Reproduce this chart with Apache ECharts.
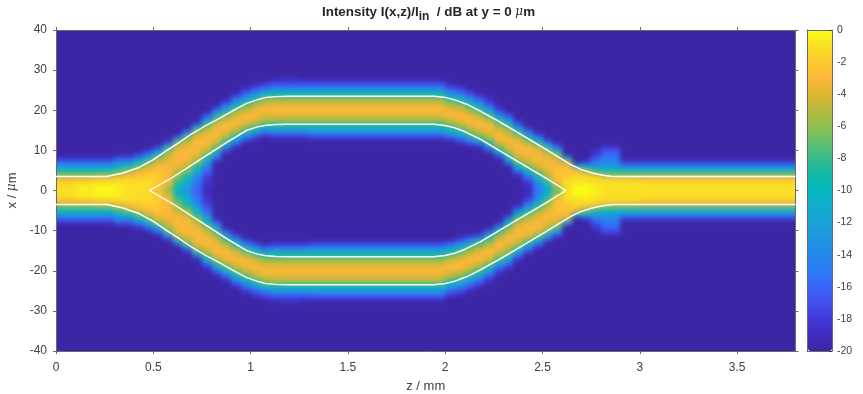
<!DOCTYPE html>
<html>
<head>
<meta charset="utf-8">
<style>
  html, body { margin: 0; padding: 0; background: #fff; }
  #chart { width: 863px; height: 394px; }
  /* heat layer only: the field in the reference is shaded, the cells are not */
  canvas[data-zr-dom-id="zr_-1"] { filter: blur(2.5px); clip-path: inset(30px 67.5px 43px 56px); }
</style>
<script src="https://cdn.jsdelivr.net/npm/echarts@6/dist/echarts.min.js"></script>
</head>
<body>
<div id="chart"></div>
<script>
// column edges along z (mm), finer where the guides bend
const zEdges = [0, .1, .2, .3, .35, .4, .45, .5, .55, .6, .65, .7, .75, .8, .85, .9, .95, 1, 1.05, 1.1, 1.15, 1.2, 1.25, 1.3,
  1.4, 1.5, 1.6, 1.7, 1.8, 1.9, 1.95, 2, 2.05, 2.1, 2.15, 2.2, 2.25, 2.3, 2.35, 2.4, 2.45, 2.5, 2.55, 2.6, 2.65, 2.7, 2.75, 2.8, 2.85, 2.9, 2.95, 3,
  3.1, 3.2, 3.3, 3.4, 3.5, 3.6, 3.7, 3.8];

// dB per column, index = |x| in um, upper half; anything past the end is -20
const intensityCols = [
  [-1, -1, -2, -3.5, -7, -10, -13, -16, -19],
  [-.5, -.5, -1.5, -3.5, -7, -10, -13, -16, -19],
  [0, -.3, -1, -3, -6.5, -10, -13, -16, -19],
  [-.5, -.5, -1, -2.5, -5, -8, -11, -14, -17],
  [-1, -1, -1, -2, -3.5, -6.5, -10, -14, -17],
  [-1, -1, -1, -2, -2.5, -4, -7, -10.5, -14, -18],
  [-1.5, -1, -1, -1.5, -2, -3, -4.5, -7, -11, -15, -19],
  [-3, -2, -2, -2, -2, -2.5, -3, -4, -6, -10.5, -15, -19],
  [-6, -4, -3, -3, -3, -3, -3, -3.5, -4, -5, -7, -12, -18],
  [-10, -9, -8, -6.5, -5.5, -4.5, -3.5, -3, -3, -3, -3.5, -4.5, -7.5, -15],
  [-13, -12, -11, -9.5, -8, -6, -4.5, -3.5, -3, -3, -3, -3.5, -4.5, -6.5, -12, -18],
  [-16, -16, -15, -14, -12.5, -10.5, -8.5, -6, -4.5, -3.5, -3, -3, -3, -3.5, -4.5, -7.5, -14, -19],
  [-19, -19, -18, -18, -17, -16, -14, -11.5, -9.5, -6.5, -4.5, -3.5, -3, -3, -3.5, -4.5, -6.5, -10.5, -14.5, -18],
  [-20, -20, -20, -20, -20, -20, -20, -19, -16, -12.5, -8.5, -6, -4.5, -3.5, -3, -3, -3.5, -5, -8, -12, -16, -19],
  [-20, -20, -20, -20, -20, -20, -20, -20, -20, -20, -17, -12.5, -8.5, -5.5, -4, -3, -3, -3.5, -5, -7.5, -11, -15, -18],
  [-20, -20, -20, -20, -20, -20, -20, -20, -20, -20, -20, -18, -14, -10.5, -7, -4.5, -3.5, -3, -3.5, -4.5, -6.5, -10, -13, -16, -19],
  [-20, -20, -20, -20, -20, -20, -20, -20, -20, -20, -20, -20, -19, -15.5, -11.5, -7.5, -5, -3.5, -3, -3.5, -4.5, -6.5, -9.5, -13, -16, -18],
  [-20, -20, -20, -20, -20, -20, -20, -20, -20, -20, -20, -20, -20, -18, -14, -10.5, -7, -4.5, -3.5, -3, -3.5, -4.5, -6.5, -10, -13, -16, -18],
  [-20, -20, -20, -20, -20, -20, -20, -20, -20, -20, -20, -20, -20, -20, -17, -13, -9, -6, -4.5, -3.5, -3, -3.5, -5, -7, -11, -14, -17, -19],
  [-20, -20, -20, -20, -20, -20, -20, -20, -20, -20, -20, -20, -20, -19, -16, -12, -9, -6.5, -4.5, -3.5, -3, -3.5, -4.5, -6.5, -10, -13, -16, -18],
  [-20, -20, -20, -20, -20, -20, -20, -20, -20, -20, -20, -20, -20, -19, -16, -12, -9, -6.5, -4.5, -3.5, -3, -3.5, -4.5, -6.5, -10, -13, -16, -18, -19],
  [-20, -20, -20, -20, -20, -20, -20, -20, -20, -20, -20, -20, -20, -19, -16, -12, -9, -6.5, -4.5, -3.5, -3, -3.5, -4.5, -6.5, -10, -13, -16, -18, -19],
  [-20, -20, -20, -20, -20, -20, -20, -20, -20, -20, -20, -20, -20, -19, -16, -12, -9, -6.5, -4.5, -3.5, -3, -3.5, -4.5, -6.5, -10, -13, -16, -18],
  [-20, -20, -20, -20, -20, -20, -20, -20, -20, -20, -20, -20, -20, -18, -15, -12, -9, -6.5, -4.5, -3.5, -3, -3.5, -4.5, -6.5, -10, -13, -15.5, -18],
  [-20, -20, -20, -20, -20, -20, -20, -20, -20, -20, -20, -20, -20, -18, -15, -12, -9, -6.5, -4.5, -3.5, -3, -3.5, -4.5, -6.5, -10, -13, -15.5, -18],
  [-20, -20, -20, -20, -20, -20, -20, -20, -20, -20, -20, -20, -20, -18, -15, -12, -9, -6.5, -4.5, -3.5, -3, -3.5, -4.5, -6.5, -10, -13, -15.5, -18],
  [-20, -20, -20, -20, -20, -20, -20, -20, -20, -20, -20, -20, -20, -18, -15, -12, -9, -6.5, -4.5, -3.5, -3, -3.5, -4.5, -6.5, -10, -13, -15.5, -18],
  [-20, -20, -20, -20, -20, -20, -20, -20, -20, -20, -20, -20, -20, -18, -15, -12, -9, -6.5, -4.5, -3.5, -3, -3.5, -4.5, -6.5, -10, -13, -15.5, -18],
  [-20, -20, -20, -20, -20, -20, -20, -20, -20, -20, -20, -20, -20, -18, -15, -12, -9, -6.5, -4.5, -3.5, -3, -3.5, -4.5, -6.5, -10, -13, -15.5, -18],
  [-20, -20, -20, -20, -20, -20, -20, -20, -20, -20, -20, -20, -20, -18, -15, -12, -9, -6.5, -4.5, -3.5, -3, -3.5, -4.5, -6.5, -10, -13, -15.5, -18],
  [-20, -20, -20, -20, -20, -20, -20, -20, -20, -20, -20, -20, -20, -18, -15, -12, -9, -6.5, -4.5, -3.5, -3, -3.5, -4.5, -6.5, -10, -13, -15.5, -18],
  [-20, -20, -20, -20, -20, -20, -20, -20, -20, -20, -20, -20, -20, -17, -13, -10, -7.5, -5, -3.5, -3, -3.5, -4.5, -6.5, -10, -13, -16, -18],
  [-20, -20, -20, -20, -20, -20, -20, -20, -20, -20, -20, -20, -18, -15, -11, -8, -5.5, -4, -3, -3, -4, -5.5, -8, -11.5, -14.5, -17, -19],
  [-20, -20, -20, -20, -20, -20, -20, -20, -20, -20, -20, -19, -16, -12, -8, -5.5, -4, -3, -3, -4, -5.5, -8, -11, -14, -17, -19],
  [-20, -20, -20, -20, -20, -20, -20, -20, -20, -20, -20, -18, -12.5, -8, -5.5, -4, -3, -3, -4, -5.5, -8, -11, -14, -17, -19],
  [-20, -20, -20, -20, -20, -20, -20, -20, -20, -20, -17, -12, -8, -5.5, -4, -3, -3, -4, -6, -9, -12.5, -15.5, -18, -19],
  [-20, -20, -20, -20, -20, -20, -20, -20, -19, -14, -9, -6, -4, -3, -3, -4, -5.5, -7.5, -11, -15, -18, -19],
  [-20, -20, -20, -20, -20, -20, -19, -14, -10, -7, -4.5, -3.5, -3, -3.5, -4.5, -5.5, -8, -12, -15, -18],
  [-20, -20, -20, -20, -18, -14, -10, -7, -4.5, -3.5, -3, -3, -3.5, -4.5, -7, -11, -15, -18],
  [-19, -19, -18, -16, -13, -9.5, -6.5, -4.5, -3.5, -3, -3, -3.5, -5, -9, -13, -17],
  [-15, -15, -13, -11, -8, -5.5, -4, -3.5, -3, -3, -3.5, -5.5, -9.5, -14, -18],
  [-11, -10, -8, -6, -4.5, -3.5, -3, -3, -3.5, -4.5, -6.5, -11, -16],
  [-7, -5, -3, -2.5, -2.5, -2.5, -3, -3.5, -4.5, -7, -12, -17],
  [-1, -1, -1, -2, -2, -2.5, -3, -5, -13],
  [0, 0, -1, -1, -2, -3.5, -11],
  [0, 0, -1, -1, -3, -7, -12, -18],
  [-.5, -.5, -1, -1.5, -4.5, -9, -13, -15, -17, -18, -19],
  [-1, -1, -1, -2.5, -6.5, -10, -13, -14, -15, -16, -17, -19],
  [-1, -1, -1, -2.5, -7, -10, -13, -14, -15, -16, -17, -19],
  [-1, -1, -1, -2.5, -7, -11, -14, -18],
  [-1, -1, -1, -2.5, -7, -11, -14, -18],
  [-1, -1, -1.5, -3, -7, -11, -14, -18],
  [-1, -1, -1.5, -3, -7, -11, -14, -18],
  [-1, -1, -1.5, -3, -7, -11, -14, -18],
  [-1, -1, -1.5, -3, -7, -11, -14, -18],
  [-1, -1, -1.5, -3, -7, -11, -14, -18],
  [-1, -1, -1.5, -3, -7, -11, -14, -18],
  [-1, -1, -1.5, -3, -7, -11, -14, -18],
  [-1, -1, -1.5, -3, -7, -11, -14, -18],
  [-1, -1, -1.5, -3, -7, -11, -14, -18]
];

// white guide outlines, upper half
const zOuter = [0, .26, .34, .43, .5, .57, .64, .7, .77, .84, .91, .98, 1.04, 1.08, 1.13, 1.19, 1.94, 2, 2.05, 2.11, 2.18, 2.28, 2.35, 2.44, 2.52, 2.58, 2.64, 2.7, 2.76, 2.81, 2.86, 3.8];
const xOuter = [3.5, 3.5, 4.3, 5.8, 7.7, 10, 12.2, 14.2, 16.2, 18, 19.9, 21.7, 22.7, 23.2, 23.4, 23.5, 23.5, 23.2, 22.6, 21.5, 19.8, 17.1, 15.1, 12.5, 10.2, 8.4, 6.6, 5.2, 4.3, 3.8, 3.5, 3.5];
const zInner = [.48, .6, .74, .877, .98, 1.03, 1.08, 1.13, 1.185, 1.94, 2, 2.05, 2.1, 2.18, 2.35, 2.52, 2.62];
const xInner = [0, 3.3, 7.7, 12, 15, 15.8, 16.25, 16.45, 16.5, 16.5, 16.2, 15.6, 14.7, 12.8, 7.9, 3, 0];

const zTicks = [0, .5, 1, 1.5, 2, 2.5, 3, 3.5];
const xTicks = [-40, -30, -20, -10, 0, 10, 20, 30, 40];
const barTicks = [-20, -18, -16, -14, -12, -10, -8, -6, -4, -2, 0];
// colour at each whole dB, -20 up to 0
const barColors = ['#3c26a5', '#3f2cc0', '#4238d8', '#4450ee', '#3a66f8', '#2b7cf5', '#2388ea', '#1e96e0', '#1ba3d8', '#10acd0',
  '#02b8c0', '#10b8a8', '#35bb8c', '#62c070', '#8fc050', '#b3bb3e', '#dfb52f', '#fbb83a', '#fdc92f', '#fadf25', '#f9fb15'];

const cells = [];
intensityCols.forEach((col, i) => {
  for (let x = -40; x <= 40; x++) {
    const v = col[Math.abs(x)];
    cells.push([zEdges[i], zEdges[i + 1], x, v === undefined ? -20 : v]);
  }
});

const pairs = (zs, xs, sign) => zs.map((z, i) => [z, sign * xs[i]]);
const innerLoop = pairs(zInner, xInner, 1).concat(pairs(zInner, xInner, -1).reverse());

const textColor = '#404040';
const axisColor = '#6a6a6a';
const font = 'Liberation Sans';
const lineStyle = { color: '#fff', width: 1.4 };

const guide = (data) => ({
  type: 'line', data, showSymbol: false, symbol: 'none', lineStyle, silent: true, z: 5,
  xAxisIndex: 0, yAxisIndex: 0
});

const frameAxis = (min, max, ticks, position, gridIndex, labels, margin) => ({
  type: 'value', min, max, position, gridIndex,
  splitLine: { show: false },
  axisLine: { show: true, onZero: false, lineStyle: { color: axisColor } },
  axisTick: { show: true, length: 3, customValues: ticks, lineStyle: { color: axisColor } },
  axisLabel: { show: labels, customValues: ticks, color: textColor, fontFamily: font, fontSize: 12, margin }
});

const chart = echarts.init(document.getElementById('chart'));
chart.setOption({
  animation: false,
  title: {
    left: 317, top: -4,
    text: '{t|Intensity I(x,z)/I}{s|in}{t|  / dB at y = 0 }{m|μ}{t|m}',
    textStyle: {
      rich: {
        t: { fontFamily: font, fontSize: 13.4, fontWeight: 'bold', color: '#262626' },
        s: { fontFamily: font, fontSize: 12, fontWeight: 'bold', color: '#262626', padding: [10, 0, 0, 0] },
        m: { fontFamily: 'DejaVu Serif', fontSize: 12, fontStyle: 'italic', fontWeight: 'normal', color: '#262626' }
      }
    }
  },
  grid: [
    { left: 56, top: 30, width: 739.5, height: 321, outerBoundsMode: 'none' },
    { left: 807, top: 30, width: 25, height: 321, outerBoundsMode: 'none' }
  ],
  xAxis: [
    Object.assign(frameAxis(0, 3.8, zTicks, 'bottom', 0, true, 11), {
      name: 'z / mm', nameLocation: 'middle', nameGap: 29,
      nameTextStyle: { color: textColor, fontFamily: font, fontSize: 13 }
    }),
    frameAxis(0, 3.8, zTicks, 'top', 0, false),
    Object.assign(frameAxis(0, 1, [], 'bottom', 1, false), { axisTick: { show: false } }),
    Object.assign(frameAxis(0, 1, [], 'top', 1, false), { axisTick: { show: false } })
  ],
  yAxis: [
    Object.assign(frameAxis(-40, 40, xTicks, 'left', 0, true, 9), {
      name: '{t|x / }{m|μ}{t|m}', nameLocation: 'middle', nameGap: 33,
      nameTextStyle: {
        rich: {
          t: { color: textColor, fontFamily: font, fontSize: 13 },
          m: { color: textColor, fontFamily: 'DejaVu Serif', fontSize: 12, fontStyle: 'italic' }
        }
      }
    }),
    frameAxis(-40, 40, xTicks, 'right', 0, false),
    Object.assign(frameAxis(-20, 0, barTicks, 'right', 1, true), {
      axisTick: { show: true, inside: true, length: 3, customValues: barTicks, lineStyle: { color: '#333' } },
      axisLabel: { show: true, customValues: barTicks, color: textColor, fontFamily: font, fontSize: 10.5, margin: 5 }
    }),
    Object.assign(frameAxis(-20, 0, [], 'left', 1, false), { axisTick: { show: false } })
  ],
  visualMap: {
    type: 'continuous', seriesIndex: 0, dimension: 3, min: -20, max: 0,
    left: 808, top: 31, itemWidth: 24, itemHeight: 320, padding: 0,
    calculable: false, hoverLink: false, text: null, showLabel: false,
    inRange: { color: barColors }
  },
  series: [
    {
      type: 'custom',
      xAxisIndex: 0, yAxisIndex: 0,
      data: cells,
      dimensions: ['z0', 'z1', 'x', 'db'],
      encode: { x: [0, 1], y: 2 },
      progressive: 0,
      clip: false,
      silent: true,
      zlevel: -1,
      renderItem(params, api) {
        const z0 = api.value(0), z1 = api.value(1), x = api.value(2);
        const a = api.coord([z0, x + .5]);
        const b = api.coord([z1, x - .5]);
        // bleed past the frame so the shading does not fade at the edge (css clips it back)
        const left = Math.round(a[0]) - (z0 === 0 ? 12 : 0);
        const right = Math.round(b[0]) + (z1 === 3.8 ? 12 : 0);
        const top = Math.round(a[1]) - (x === 40 ? 12 : 0);
        const bottom = Math.round(b[1]) + (x === -40 ? 12 : 0);
        return {
          type: 'rect',
          shape: { x: left, y: top, width: right - left, height: bottom - top },
          style: { fill: api.visual('color') }
        };
      }
    },
    guide(pairs(zOuter, xOuter, 1)),
    guide(pairs(zOuter, xOuter, -1)),
    guide(innerLoop)
  ]
});
</script>
</body>
</html>
